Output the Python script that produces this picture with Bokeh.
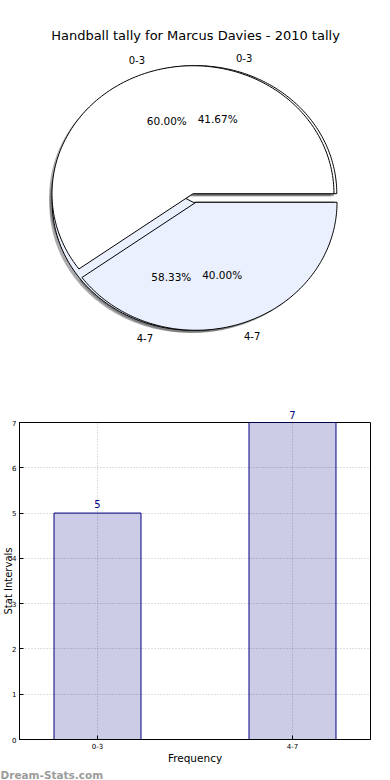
import numpy as np
from bokeh.plotting import figure
from bokeh.layouts import column
from bokeh.models import Range1d, Label, FixedTicker, LinearAxis, Title
from bokeh.embed import file_html
from bokeh.resources import INLINE

# ---------------- data ----------------
title_text = "Handball tally for Marcus Davies - 2010 tally"
categories = ["0-3", "4-7"]
counts = [5, 7]                     # bar values / back pie
front_pie_share = [60.0, 40.0]      # front pie percentages as printed
pie_colors = ["#ffffff", "#eaf0fd"]
y_ticks = [0, 1, 2, 3, 4, 5, 6, 7]
y_label = "Stat Intervals"
x_label = "Frequency"
watermark = "Dream-Stats.com"

FONT = "DejaVu Sans"

# shared horizontal frame (column layout aligns the plot frames)
W = 390
BORDER_L, BORDER_R = 19, 20
FX0, FX1 = BORDER_L, W - BORDER_R

# ---------------- pie figure ----------------
PH = 380
CX, CY = 194.0, 197.5          # pie centre in page pixels
RX, RY = 141.0, 128.0          # pixels per radius unit
EXPLODE = 0.035
SHADOW = (-0.02, -0.02)

pp = figure(width=W, height=PH, toolbar_location=None, output_backend="svg",
            x_axis_type=None, y_axis_type=None,
            min_border_left=BORDER_L, min_border_right=BORDER_R,
            min_border_top=0, min_border_bottom=0,
            x_range=Range1d((FX0 - CX) / RX, (FX1 - CX) / RX),
            y_range=Range1d(-(PH - CY) / RY, CY / RY))
pp.grid.visible = False
pp.outline_line_color = None


def wedges(shares):
    fr = np.asarray(shares, float) / np.sum(shares)
    bounds = 2 * np.pi * np.concatenate([[0.0], np.cumsum(fr)])
    out = []
    for t1, t2 in zip(bounds[:-1], bounds[1:]):
        tm = 0.5 * (t1 + t2)
        ox, oy = EXPLODE * np.cos(tm), EXPLODE * np.sin(tm)
        th = np.linspace(t1, t2, 160)
        xs = np.concatenate([[ox], ox + np.cos(th), [ox]])
        ys = np.concatenate([[oy], oy + np.sin(th), [oy]])
        out.append((xs, ys, tm, ox, oy))
    return out


back = wedges(counts)
front = wedges(front_pie_share)


def shade(c):
    c = c.lstrip("#")
    rgb = [int(c[i:i + 2], 16) for i in (0, 2, 4)]
    return "#%02x%02x%02x" % tuple(int(0.3 * v) for v in rgb)


# shadows (lowest)
for pie in (back, front):
    for i, (xs, ys, tm, ox, oy) in enumerate(pie):
        col = shade(pie_colors[i])
        pp.patch(xs + SHADOW[0], ys + SHADOW[1], fill_color=col, fill_alpha=0.45,
                 line_color=None)

# back pie then front pie
for pie in (back, front):
    for i, (xs, ys, tm, ox, oy) in enumerate(pie):
        pp.patch(xs, ys, fill_color=pie_colors[i], line_color="black", line_width=1)

# labels and percentages
for pie, shares in ((back, counts), (front, front_pie_share)):
    tot = float(np.sum(shares))
    for i, (xs, ys, tm, ox, oy) in enumerate(pie):
        lx = ox + 1.1 * np.cos(tm)
        ly = oy + 1.1 * np.sin(tm)
        pp.add_layout(Label(x=lx, y=ly, text=categories[i], text_font=FONT,
                            text_font_size="10px", text_color="black",
                            text_align="left" if lx > 0 else "right",
                            text_baseline="middle"))
        px = ox + 0.6 * np.cos(tm)
        py = oy + 0.6 * np.sin(tm)
        pp.add_layout(Label(x=px, y=py, text="%.2f%%" % (100.0 * shares[i] / tot),
                            text_font=FONT, text_font_size="10.5px", text_color="black",
                            text_align="center", text_baseline="middle"))

pp.add_layout(Label(x=(195.0 - CX) / RX, y=(CY - 35.0) / RY, text=title_text,
                    text_font=FONT, text_font_size="13px", text_color="black",
                    text_align="center", text_baseline="alphabetic"))

# ---------------- bar figure ----------------
BH = 400
YPX = 45.47   # pixels per y unit
xpos = np.arange(len(categories))
ymax = y_ticks[-1]
pb = figure(width=W, height=BH, toolbar_location=None, output_backend="svg",
            x_range=Range1d(-0.4, 1.4), y_range=Range1d(y_ticks[0], ymax),
            min_border_left=BORDER_L, min_border_right=BORDER_R,
            min_border_top=42, min_border_bottom=40)
pb.outline_line_color = "black"
pb.outline_line_width = 1
bottom_axis = pb.below[0]
left_axis = pb.left[0]

pb.xgrid.ticker = FixedTicker(ticks=list(xpos))
pb.ygrid.ticker = FixedTicker(ticks=y_ticks)
for g in (pb.xgrid[0], pb.ygrid[0]):
    g.grid_line_color = "#8a8a8a"
    g.grid_line_alpha = 0.55
    g.grid_line_dash = "1 2"
    g.grid_line_width = 1

pb.vbar(x=xpos, top=counts, width=0.446, fill_color="navy", fill_alpha=0.2,
        line_color="navy", line_width=1)

# value labels: inside the frame as labels, at the frame top through a top axis
for xi, c in zip(xpos, counts):
    if c < ymax:
        pb.add_layout(Label(x=float(xi), y=c + 9.5 / YPX, text=str(c), text_font=FONT,
                            text_font_size="10px", text_color="navy", text_align="center",
                            text_baseline="middle"))
top_ticks = [float(xi) for xi, c in zip(xpos, counts) if c >= ymax]
top_text = [str(c) for c in counts if c >= ymax]
top_axis = LinearAxis(ticker=FixedTicker(ticks=top_ticks),
                      major_label_overrides={t: s for t, s in zip(top_ticks, top_text)},
                      major_label_text_font=FONT, major_label_text_font_size="10px",
                      major_label_text_color="navy", major_label_standoff=4,
                      major_tick_in=0, major_tick_out=0,
                      major_tick_line_color=None, minor_tick_line_color=None,
                      axis_line_color=None)
pb.add_layout(top_axis, "above")

for ax in (bottom_axis, left_axis):
    ax.major_tick_in = 4
    ax.major_tick_out = 0
    ax.minor_tick_line_color = None
    ax.major_label_standoff = 3
    ax.major_label_text_font = FONT
    ax.major_label_text_font_size = "7px"
    ax.major_label_text_color = "black"
    ax.axis_line_color = "black"
    ax.major_tick_line_color = "black"
    ax.axis_label_text_font = FONT
    ax.axis_label_text_font_style = "normal"
    ax.axis_label_text_color = "black"

left_axis.ticker = FixedTicker(ticks=y_ticks)
left_axis.axis_label = y_label
left_axis.axis_label_text_font_size = "10px"
left_axis.axis_label_standoff = -5

bottom_axis.ticker = FixedTicker(ticks=list(xpos))
bottom_axis.major_label_overrides = {int(i): c for i, c in zip(xpos, categories)}
bottom_axis.axis_label = x_label
bottom_axis.axis_label_text_font_size = "10.5px"
bottom_axis.axis_label_standoff = 0

pb.add_layout(Title(text=watermark, align="left", offset=-BORDER_L, standoff=0,
                    text_font=FONT, text_font_style="bold",
                    text_font_size="10.5px", text_color="#9c9c9c"), "below")

layout = column(pp, pb)
open("out.html", "w").write(file_html(layout, INLINE))
